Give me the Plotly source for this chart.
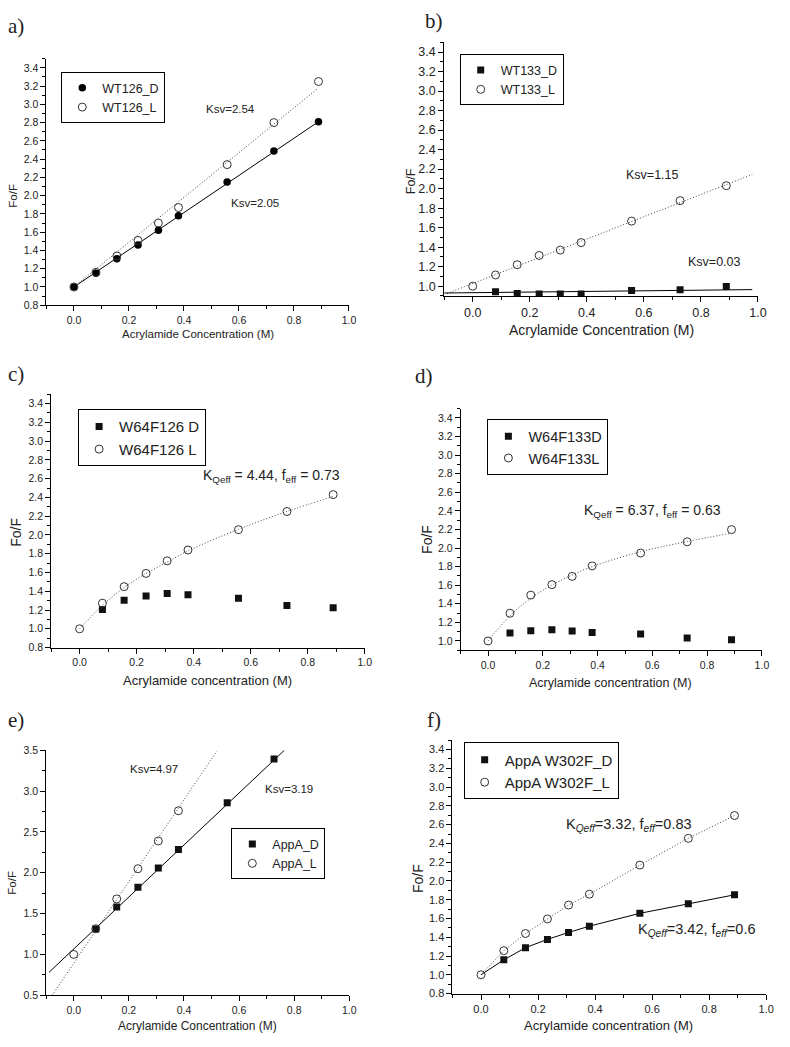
import plotly.graph_objects as go

# ---------------- data ----------------
conc = [0, 0.08, 0.156, 0.233, 0.307, 0.38, 0.557, 0.727, 0.889]

a_D = [1.0, 1.15, 1.31, 1.46, 1.62, 1.78, 2.15, 2.49, 2.81]
a_L = [1.0, 1.16, 1.34, 1.51, 1.70, 1.87, 2.34, 2.80, 3.25]
a_fitD_x, a_fitD_y = [0, 0.889], [1.0, 2.81]
a_fitL_x, a_fitL_y = [0, 0.889], [1.0, 3.18]

b_L = [1.0, 1.115, 1.22, 1.315, 1.37, 1.447, 1.667, 1.877, 2.03]
b_D_x = [0.08, 0.156, 0.233, 0.307, 0.38, 0.557, 0.727, 0.889]
b_D = [0.942, 0.925, 0.92, 0.92, 0.92, 0.956, 0.963, 0.997]
b_fitL_x, b_fitL_y = [-0.09, 0.98], [0.925, 2.145]
b_fitD_x, b_fitD_y = [-0.1, 0.98], [0.93, 0.965]

c_L = [1.0, 1.273, 1.449, 1.59, 1.724, 1.84, 2.056, 2.25, 2.43]
c_D_x = [0.08, 0.156, 0.233, 0.307, 0.38, 0.557, 0.727, 0.889]
c_D = [1.206, 1.304, 1.35, 1.375, 1.364, 1.326, 1.248, 1.223]
c_fit = [1.0, 1.25, 1.44, 1.59, 1.71, 1.83, 2.06, 2.25, 2.41]

d_L = [1.0, 1.298, 1.493, 1.606, 1.695, 1.808, 1.946, 2.067, 2.198]
d_D_x = [0.08, 0.156, 0.233, 0.307, 0.38, 0.557, 0.727, 0.889]
d_D = [1.085, 1.11, 1.12, 1.106, 1.092, 1.074, 1.032, 1.014]
d_fit = [1.0, 1.27, 1.46, 1.60, 1.71, 1.80, 1.96, 2.07, 2.16]

e_D_x = [0.08, 0.156, 0.233, 0.307, 0.38, 0.557, 0.727]
e_D = [1.31, 1.582, 1.824, 2.058, 2.284, 2.858, 3.395]
e_L_x = [0, 0.08, 0.156, 0.233, 0.307, 0.38]
e_L = [1.0, 1.315, 1.68, 2.05, 2.39, 2.76]
e_fitD_x, e_fitD_y = [-0.09, 0.764], [0.78, 3.50]
e_fitL_x, e_fitL_y = [-0.078, 0.519], [0.5, 3.49]

f_L = [1.0, 1.257, 1.44, 1.595, 1.743, 1.859, 2.169, 2.454, 2.697]
f_D_x = [0.08, 0.156, 0.233, 0.307, 0.38, 0.557, 0.727, 0.889]
f_D = [1.159, 1.289, 1.377, 1.451, 1.518, 1.655, 1.757, 1.852]
f_fitD = [1.0, 1.159, 1.289, 1.377, 1.451, 1.518, 1.655, 1.757, 1.852]
f_fitL = f_L

W, H = 790, 1047
FONT = "Liberation Sans, Arial, sans-serif"
SERIF = "Liberation Serif, Times New Roman, serif"
TXT = "#222"
DOT = "1px,2px"

fig = go.Figure()


def px(xp):
    return xp / W


def py(yp):
    return 1 - yp / H


panels = {
    1: dict(xl=47, xr=353, yt=53.3, yb=302.7, yr=[0.8, 3.5], t0=0.8, dt=0.2, mdt=0.1, tf=10.5),
    2: dict(xl=449.3, xr=766.7, yt=36.7, yb=293.3, yr=[0.9, 3.5], t0=1.0, dt=0.2, mdt=0.1, tf=12.5),
    3: dict(xl=51.7, xr=369, yt=392.7, yb=649, yr=[0.8, 3.5], t0=0.8, dt=0.2, mdt=0.1, tf=10.5),
    4: dict(xl=466, xr=770.7, yt=407.3, yb=651.7, yr=[0.9, 3.5], t0=1.0, dt=0.2, mdt=0.1, tf=10.5),
    5: dict(xl=46.7, xr=353.3, yt=753, yb=1000.7, yr=[0.5, 3.5], t0=0.5, dt=0.5, mdt=0.25, tf=10.5),
    6: dict(xl=457.7, xr=775, yt=742.7, yb=999, yr=[0.8, 3.5], t0=0.8, dt=0.2, mdt=0.1, tf=11),
}

layout_axes = {}
for i, p in panels.items():
    xa = "xaxis" if i == 1 else f"xaxis{i}"
    ya = "yaxis" if i == 1 else f"yaxis{i}"
    layout_axes[xa] = dict(
        domain=[px(p["xl"]), px(p["xr"])], range=[-0.1, 1.0], anchor="y" if i == 1 else f"y{i}",
        showgrid=False, zeroline=False, showline=True, linecolor="black", linewidth=1,
        ticks="outside", ticklen=5, tickcolor="black", tick0=0, dtick=0.2, tickformat=".1f",
        tickfont=dict(family=FONT, size=p["tf"], color=TXT),
        minor=dict(ticks="outside", ticklen=3, dtick=0.1, tick0=0, tickcolor="black"),
    )
    layout_axes[ya] = dict(
        domain=[py(p["yb"]), py(p["yt"])], range=p["yr"], anchor="x" if i == 1 else f"x{i}",
        showgrid=False, zeroline=False, showline=True, linecolor="black", linewidth=1,
        ticks="outside", ticklen=5, tickcolor="black", tick0=p["t0"], dtick=p["dt"], tickformat=".1f",
        tickfont=dict(family=FONT, size=p["tf"], color=TXT),
        minor=dict(ticks="outside", ticklen=3, dtick=p["mdt"], tick0=p["t0"], tickcolor="black"),
    )


def ax(i):
    return ("x", "y") if i == 1 else (f"x{i}", f"y{i}")


def line(i, xs, ys, dotted, shape="linear"):
    xr, yr = ax(i)
    fig.add_trace(go.Scatter(
        x=xs, y=ys, mode="lines", xaxis=xr, yaxis=yr, showlegend=False, hoverinfo="skip",
        line=dict(color="#444" if dotted else "black", width=1, dash=DOT if dotted else "solid", shape=shape),
    ))


def pts(i, xs, ys, name, sym, legend):
    xr, yr = ax(i)
    if sym == "open":
        marker = dict(symbol="circle-open", size=8, color="#333", line=dict(width=1, color="#333"))
    elif sym == "dot":
        marker = dict(symbol="circle", size=7.5, color="black")
    else:
        marker = dict(symbol="square", size=7, color="#111")
    fig.add_trace(go.Scatter(x=xs, y=ys, mode="markers", name=name, xaxis=xr, yaxis=yr,
                             marker=marker, legend=legend))


# a)
line(1, a_fitL_x, a_fitL_y, True)
line(1, a_fitD_x, a_fitD_y, False)
pts(1, conc, a_D, "WT126_D", "dot", "legend")
pts(1, conc, a_L, "WT126_L", "open", "legend")
# b)
line(2, b_fitL_x, b_fitL_y, True)
line(2, b_fitD_x, b_fitD_y, False)
pts(2, b_D_x, b_D, "WT133_D", "sq", "legend2")
pts(2, conc, b_L, "WT133_L", "open", "legend2")
# c)
line(3, conc, c_fit, True, "spline")
pts(3, c_D_x, c_D, "W64F126 D", "sq", "legend3")
pts(3, conc, c_L, "W64F126 L", "open", "legend3")
# d)
line(4, conc, d_fit, True, "spline")
pts(4, d_D_x, d_D, "W64F133D", "sq", "legend4")
pts(4, conc, d_L, "W64F133L", "open", "legend4")
# e)
line(5, e_fitL_x, e_fitL_y, True)
line(5, e_fitD_x, e_fitD_y, False)
pts(5, e_D_x, e_D, "AppA_D", "sq", "legend5")
pts(5, e_L_x, e_L, "AppA_L", "open", "legend5")
# f)
line(6, conc, f_fitL, True)
line(6, conc, f_fitD, False)
pts(6, f_D_x, f_D, "AppA W302F_D", "sq", "legend6")
pts(6, conc, f_L, "AppA W302F_L", "open", "legend6")


def leg(xp, yp, size):
    return dict(x=px(xp), y=py(yp), xanchor="left", yanchor="top", bordercolor="black", borderwidth=1,
                bgcolor="white", font=dict(family=FONT, size=size, color=TXT), tracegroupgap=0,
                itemwidth=30)


annotations = []


def note(i, x, y, text, size):
    xr, yr = ax(i)
    annotations.append(dict(x=x, y=y, xref=xr, yref=yr, text=text, showarrow=False,
                            xanchor="center", yanchor="middle",
                            font=dict(family=FONT, size=size, color=TXT)))


def paper(xp, yp, text, size, family=FONT, angle=0):
    annotations.append(dict(x=px(xp), y=py(yp), xref="paper", yref="paper", text=text, showarrow=False,
                            xanchor="center", yanchor="middle", textangle=angle,
                            font=dict(family=family, size=size, color=TXT)))


note(1, 0.57, 2.95, "Ksv=2.54", 11.5)
note(1, 0.66, 1.915, "Ksv=2.05", 11.5)
note(2, 0.63, 2.14, "Ksv=1.15", 12.5)
note(2, 0.847, 1.25, "Ksv=0.03", 12.5)
note(3, 0.674, 2.63, "K<sub>Qeff</sub> = 4.44, f<sub>eff</sub> = 0.73", 14)
note(4, 0.60, 2.40, "K<sub>Qeff</sub> = 6.37, f<sub>eff</sub> = 0.63", 14)
note(5, 0.29, 3.27, "Ksv=4.97", 11.5)
note(5, 0.78, 3.03, "Ksv=3.19", 11.5)
note(6, 0.52, 2.60, "K<sub><i>Qeff</i></sub>=3.32, f<sub><i>eff</i></sub>=0.83", 14.5)
note(6, 0.757, 1.476, "K<sub><i>Qeff</i></sub>=3.42, f<sub><i>eff</i></sub>=0.6", 14.5)

# panel labels
paper(16, 20, "a)", 21, SERIF)
paper(439, 15, "b)", 21, SERIF)
paper(16, 372, "c)", 21, SERIF)
paper(429, 374, "d)", 21, SERIF)
paper(16, 722, "e)", 21, SERIF)
paper(439, 722, "f)", 21, SERIF)

# axis titles
paper(200, 332, "Acrylamide Concentration (M)", 11.5)
paper(608, 328, "Acrylamide Concentration (M)", 14)
paper(210, 682, "Acrylamide concentration (M)", 13)
paper(618, 685, "Acrylamide concentration (M)", 12.5)
paper(200, 1032, "Acrylamide Concentration (M)", 12)
paper(616, 1031, "Acrylamide concentration (M)", 13)
paper(13, 192, "Fo/F", 11.5, angle=-90)
paper(416, 177, "Fo/F", 12.5, angle=-90)
paper(16, 532, "Fo/F", 14, angle=-90)
paper(432, 540, "Fo/F", 14, angle=-90)
paper(12, 887, "Fo/F", 11.5, angle=-90)
paper(423, 883, "Fo/F", 14, angle=-90)

fig.update_layout(
    width=W, height=H, margin=dict(l=0, r=0, t=0, b=0),
    paper_bgcolor="white", plot_bgcolor="white",
    font=dict(family=FONT, color=TXT),
    legend=leg(62, 67, 12.5),
    legend2=leg(465, 49, 12.5),
    legend3=leg(79, 408, 15),
    legend4=leg(493, 418, 14.5),
    legend5=leg(234, 832, 12.5),
    legend6=leg(469, 745, 15),
    annotations=annotations,
    **layout_axes,
)

fig.write_html("out.html", config={"displayModeBar": False},
               post_script="document.body.style.margin='0px';")
